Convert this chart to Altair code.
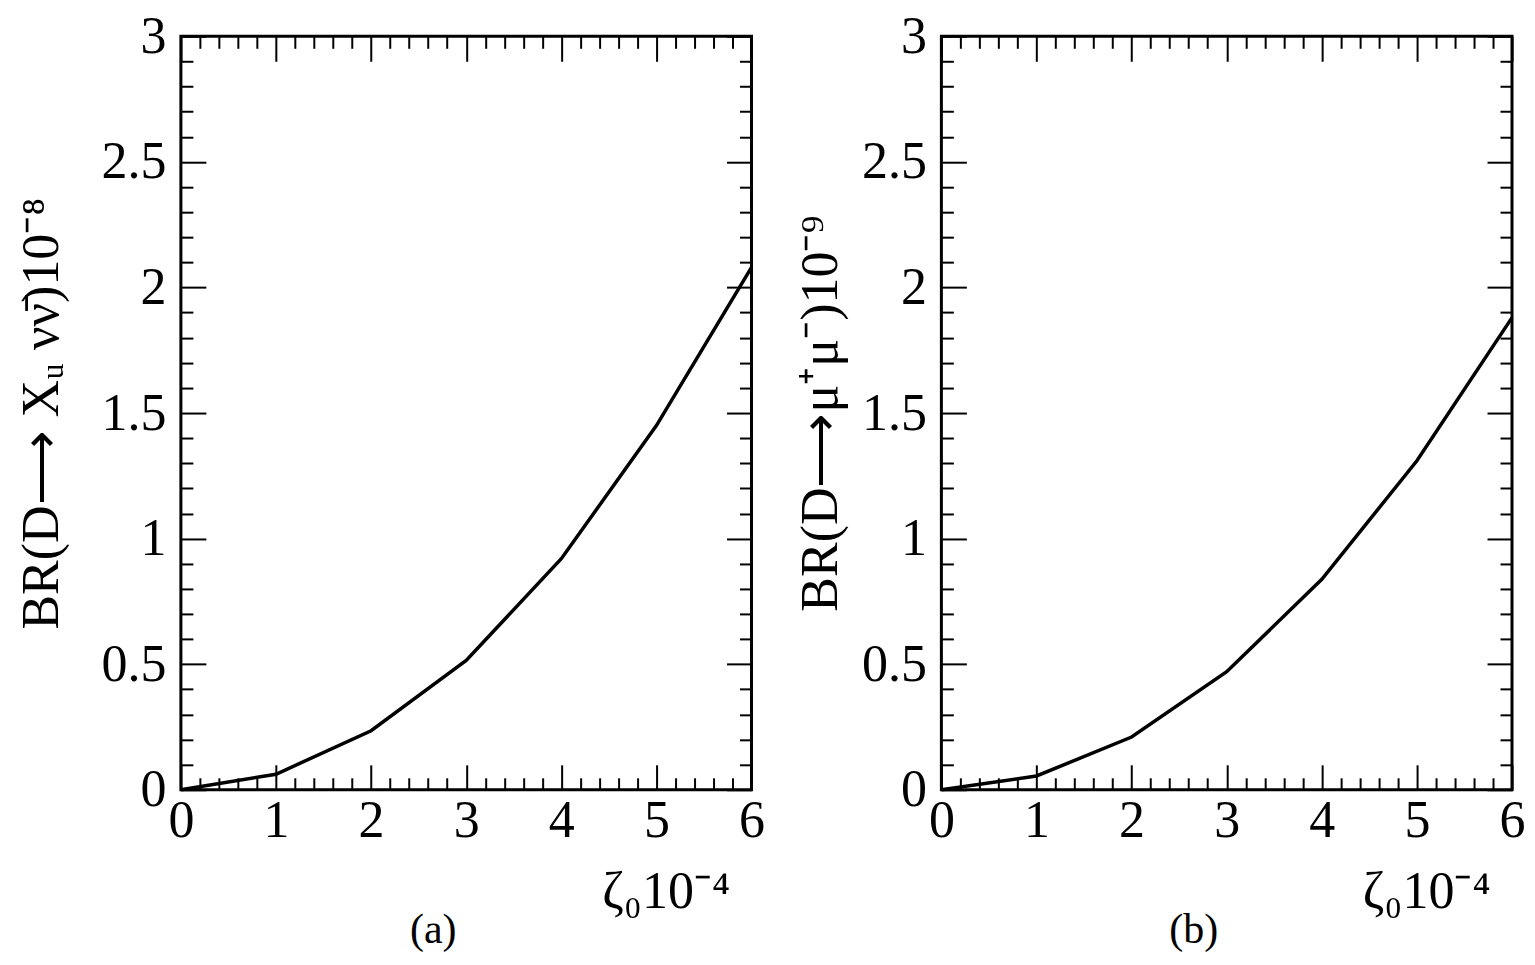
import pandas as pd
import altair as alt

# curve values
zeta = [0, 1, 2, 3, 4, 5, 6]
br_nunu = [0, 0.062, 0.235, 0.515, 0.92, 1.45, 2.08]
br_mumu = [0, 0.055, 0.21, 0.47, 0.838, 1.31, 1.88]

# tick positions
x_major = [0, 1, 2, 3, 4, 5, 6]
x_minor = [round(i * 0.2, 1) for i in range(31) if i % 5]
y_major = [0, 0.5, 1, 1.5, 2, 2.5, 3]
y_minor = [round(i * 0.1, 1) for i in range(31) if i % 5]

FONT = "Liberation Serif"
W, H = 571, 754
MAJOR, MINOR = 25, 12
X_TITLE = "ζ₀10⁻⁴"


def tick_axis(orient, values, size, **kw):
    """Axis drawn inward: offset pulls it into the plot by its own tick length."""
    return alt.Axis(orient=orient, values=values, tickSize=size, offset=-size,
                    domain=False, grid=False, tickWidth=2, tickColor="black",
                    labelFlush=False, **kw)


def panel(yvals, ytitle, ytitle_x, tag):
    df = pd.DataFrame({"zeta": zeta, "br": yvals})
    xs = alt.Scale(domain=[0, 6], nice=False, zero=False)
    ys = alt.Scale(domain=[0, 3], nice=False, zero=False)

    line = alt.Chart(df).mark_line(color="black", strokeWidth=3.5).encode(
        x=alt.X("zeta:Q", scale=xs,
                axis=tick_axis("bottom", x_major, MAJOR, labels=True, labelPadding=6,
                               format="~g", title=X_TITLE, titleX=W - 22,
                               titleY=143, titleAlign="right",
                               titleBaseline="alphabetic")),
        y=alt.Y("br:Q", scale=ys,
                axis=tick_axis("left", y_major, MAJOR, labels=True, labelPadding=15,
                               format="~g", title=ytitle, titleX=ytitle_x)),
    )

    layers = [line]
    extra = [("bottom", x_minor, MINOR), ("top", x_major, MAJOR), ("top", x_minor, MINOR),
             ("left", y_minor, MINOR), ("right", y_major, MAJOR), ("right", y_minor, MINOR)]
    for orient, vals, size in extra:
        ax = tick_axis(orient, vals, size, labels=False, title=None)
        if orient in ("bottom", "top"):
            enc = dict(x=alt.X("zeta:Q", scale=xs, axis=ax),
                       y=alt.Y("br:Q", scale=ys, axis=None))
        else:
            enc = dict(x=alt.X("zeta:Q", scale=xs, axis=None),
                       y=alt.Y("br:Q", scale=ys, axis=ax))
        layers.append(alt.Chart(df).mark_line(opacity=0).encode(**enc))

    return alt.layer(*layers).resolve_axis(x="independent", y="independent").properties(
        width=W, height=H,
        title=alt.TitleParams(tag, orient="bottom", font=FONT, fontSize=42,
                              fontWeight="normal", color="black", dx=-33, offset=-8),
    )


left = panel(br_nunu, "BR(D⟶ Xᵤ νν̄)10⁻⁸", -137, "(a)")
right = panel(br_mumu, "BR(D⟶μ⁺μ⁻)10⁻⁹", -119, "(b)")

chart = alt.hconcat(left, right, spacing=190, bounds="flush").properties(
    padding={"left": 6, "top": 0, "right": 0, "bottom": 0}
).configure_view(
    stroke="black", strokeWidth=3
).configure_axis(
    labelFont=FONT, titleFont=FONT, labelFontSize=52, titleFontSize=52,
    titleFontWeight="normal", labelColor="black", titleColor="black"
)

chart.save("out.html", embed_options={"renderer": "svg", "actions": False})
